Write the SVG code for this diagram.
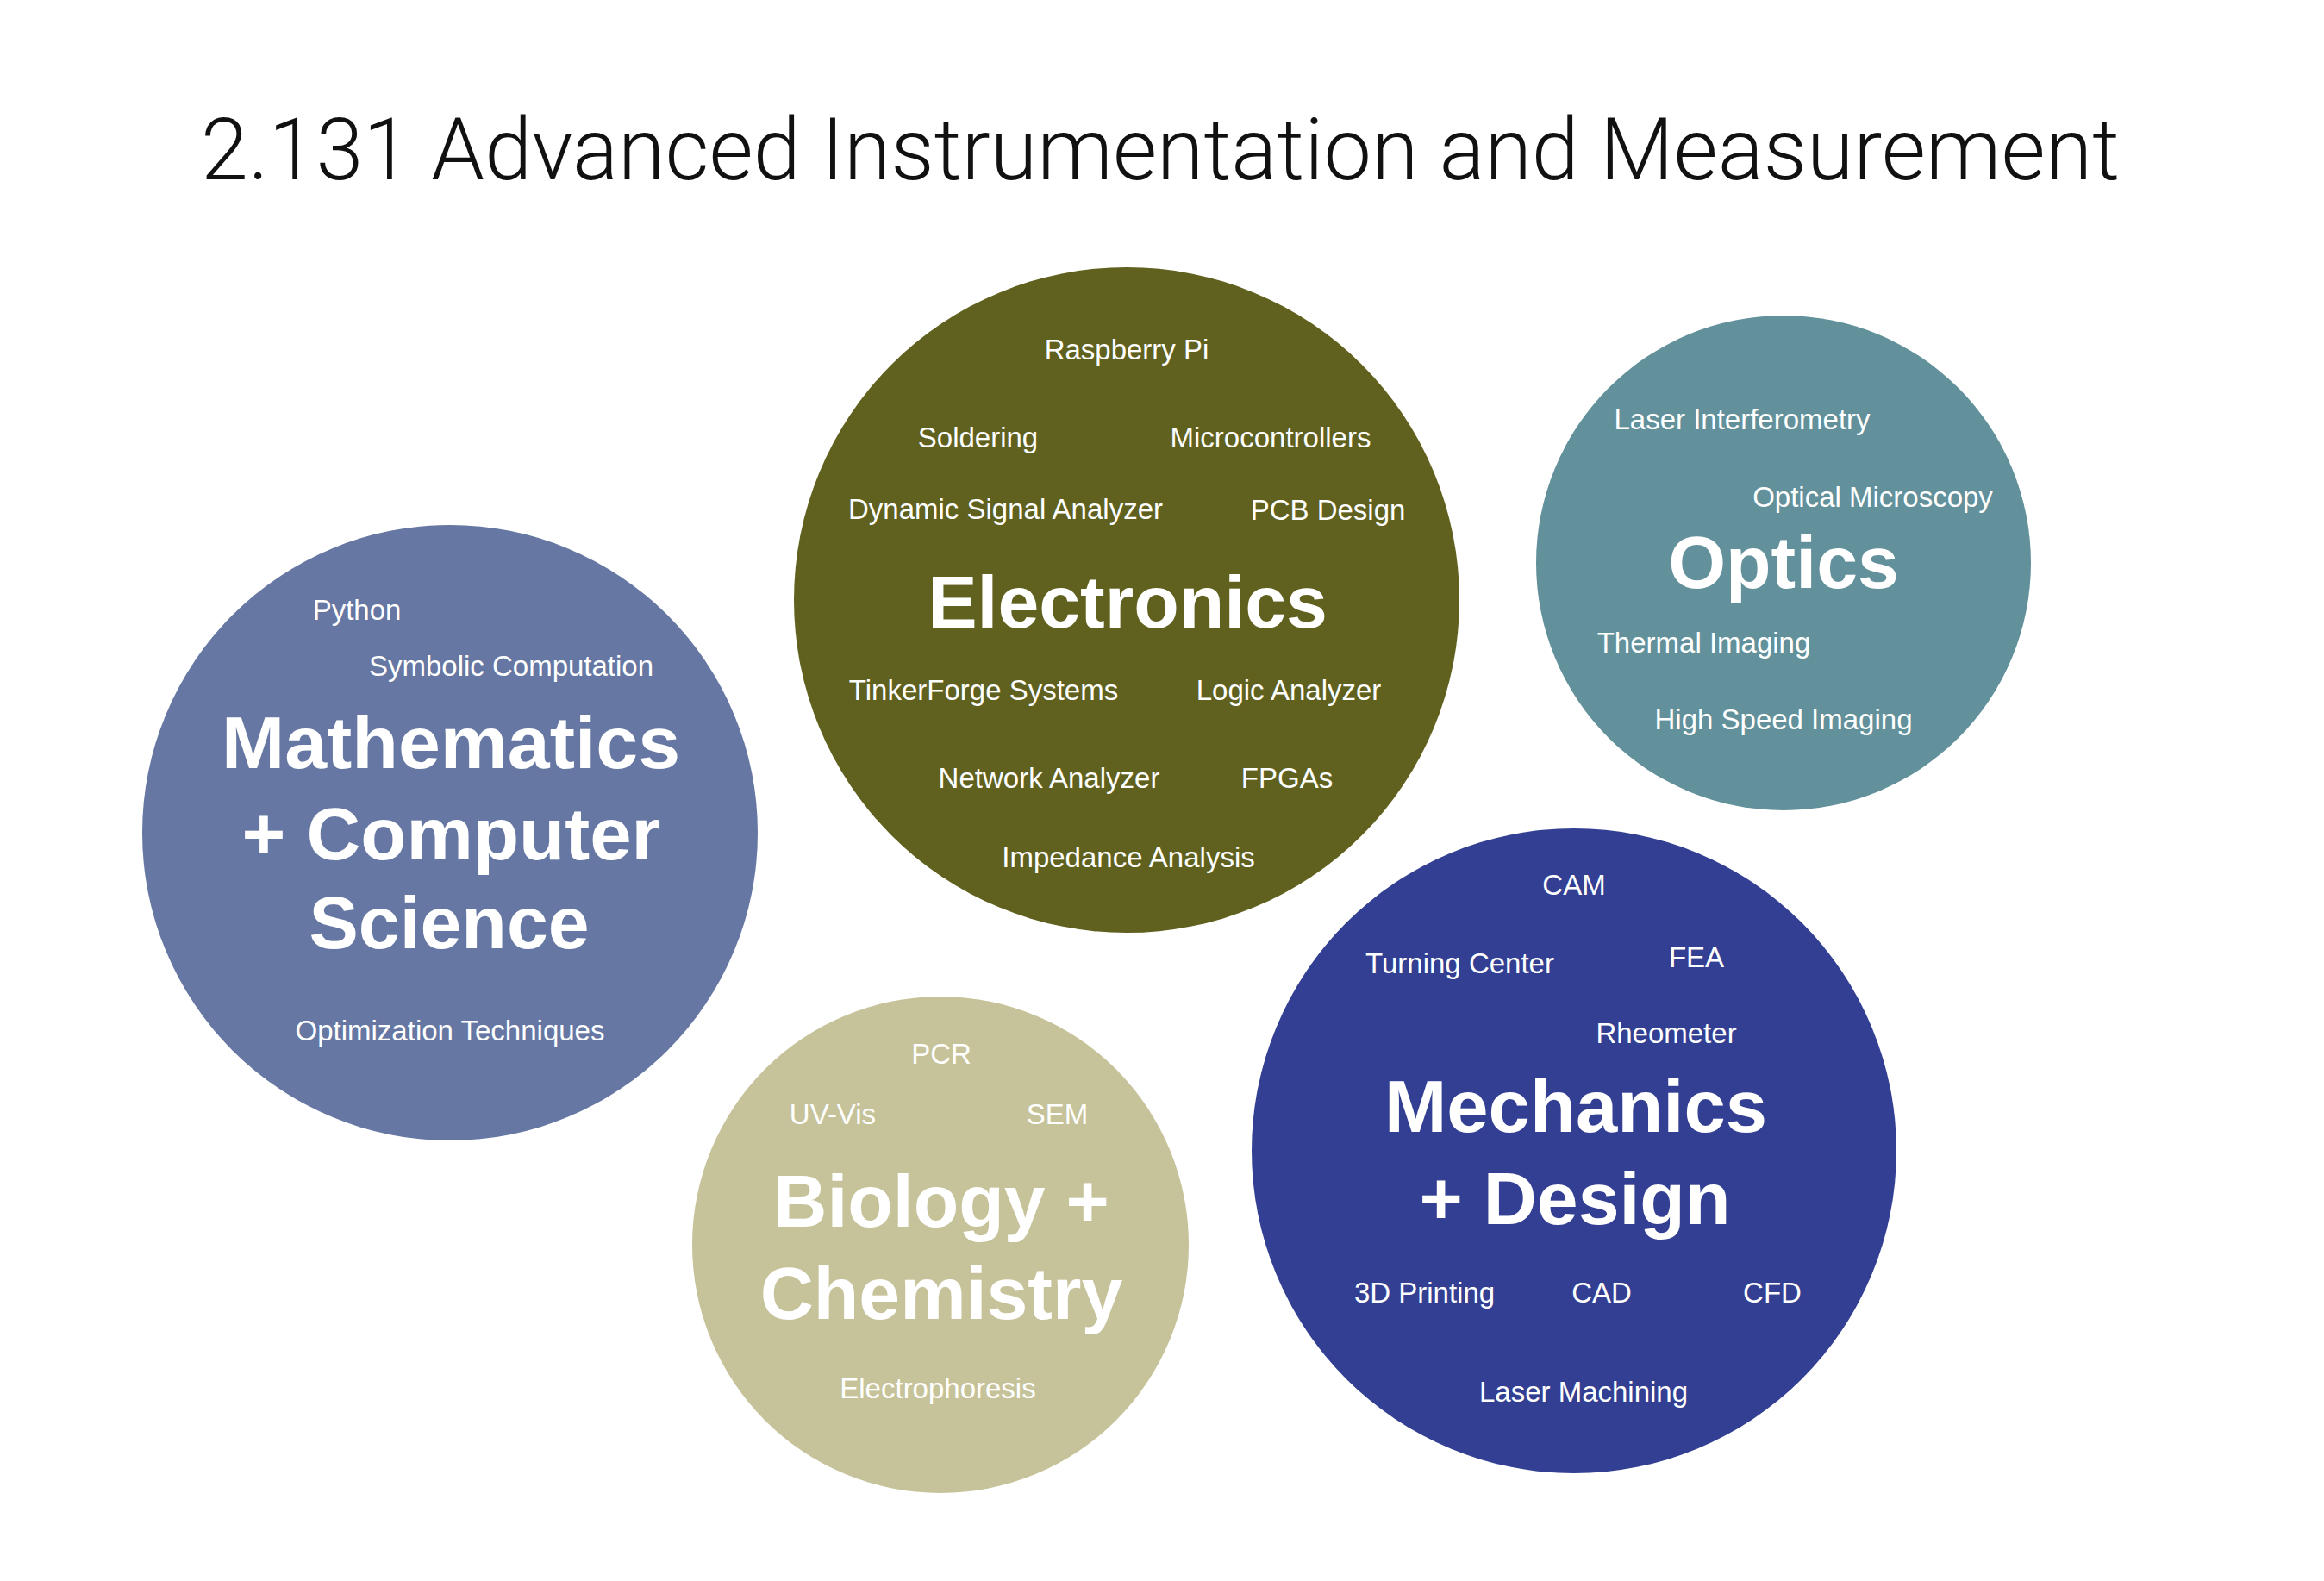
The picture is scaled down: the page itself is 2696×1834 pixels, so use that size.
<svg xmlns="http://www.w3.org/2000/svg" width="2696" height="1834" viewBox="0 0 2696 1834">
<style>
.title{font-family:Roboto,"Liberation Sans",Arial,sans-serif;font-weight:300;font-size:100px;fill:#111}
.item{font-family:"Liberation Sans",Arial,Helvetica,sans-serif;font-size:33px;fill:#ffffff;text-anchor:middle}
.head{font-family:"Liberation Sans",Arial,Helvetica,sans-serif;font-weight:bold;font-size:86px;fill:#ffffff;text-anchor:middle}
.electronics{fill:#60611e}
.optics{fill:#62919b}
.math{fill:#6577a2}
.bio{fill:#c6c39a}
.mech{fill:#333f92}
</style>
<rect x="0" y="0" width="2696" height="1834" fill="#ffffff"/>
<text class="title" x="233" y="208" textLength="2226" lengthAdjust="spacingAndGlyphs">2.131 Advanced Instrumentation and Measurement</text>
<g id="connectors"/>
<g id="electronics">
<circle class="electronics" cx="1307" cy="696" r="386"/>
<text class="item" x="1307" y="417">Raspberry Pi</text>
<text class="item" x="1134.5" y="519">Soldering</text>
<text class="item" x="1474" y="519">Microcontrollers</text>
<text class="item" x="1166.5" y="602">Dynamic Signal Analyzer</text>
<text class="item" x="1540.5" y="603">PCB Design</text>
<text class="head" x="1308" y="728">Electronics</text>
<text class="item" x="1141" y="812">TinkerForge Systems</text>
<text class="item" x="1495" y="812">Logic Analyzer</text>
<text class="item" x="1217" y="914">Network Analyzer</text>
<text class="item" x="1493" y="914">FPGAs</text>
<text class="item" x="1309" y="1006">Impedance Analysis</text>
</g>
<g id="optics">
<circle class="optics" cx="2069" cy="653" r="287"/>
<text class="item" x="2021" y="498">Laser Interferometry</text>
<text class="item" x="2172.5" y="588">Optical Microscopy</text>
<text class="head" x="2069" y="682">Optics</text>
<text class="item" x="1976.5" y="757">Thermal Imaging</text>
<text class="item" x="2069" y="846">High Speed Imaging</text>
</g>
<g id="mathematics">
<circle class="math" cx="522" cy="966" r="357"/>
<text class="item" x="414" y="719">Python</text>
<text class="item" x="593" y="784">Symbolic Computation</text>
<text class="head" x="523" y="891" textLength="532" lengthAdjust="spacingAndGlyphs">Mathematics</text>
<text class="head" x="523.5" y="997" textLength="486" lengthAdjust="spacingAndGlyphs">+ Computer</text>
<text class="head" x="521" y="1100">Science</text>
<text class="item" x="522" y="1207">Optimization Techniques</text>
</g>
<g id="biology">
<circle class="bio" cx="1091" cy="1444" r="288"/>
<text class="item" x="1092" y="1234">PCR</text>
<text class="item" x="966" y="1304">UV-Vis</text>
<text class="item" x="1226.5" y="1304">SEM</text>
<text class="head" x="1092" y="1423">Biology +</text>
<text class="head" x="1092" y="1530">Chemistry</text>
<text class="item" x="1088" y="1622">Electrophoresis</text>
</g>
<g id="mechanics">
<circle class="mech" cx="1826" cy="1335" r="374"/>
<text class="item" x="1826" y="1038">CAM</text>
<text class="item" x="1693.5" y="1129">Turning Center</text>
<text class="item" x="1968" y="1122">FEA</text>
<text class="item" x="1933" y="1210">Rheometer</text>
<text class="head" x="1828" y="1313" textLength="444" lengthAdjust="spacingAndGlyphs">Mechanics</text>
<text class="head" x="1827" y="1420">+ Design</text>
<text class="item" x="1652.5" y="1511">3D Printing</text>
<text class="item" x="1858" y="1511">CAD</text>
<text class="item" x="2056" y="1511">CFD</text>
<text class="item" x="1837" y="1626">Laser Machining</text>
</g>
</svg>
